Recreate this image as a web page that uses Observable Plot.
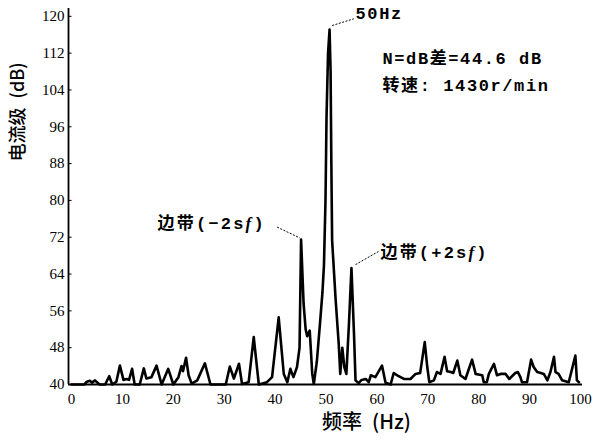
<!DOCTYPE html>
<html>
<head>
<meta charset="utf-8">
<script src="https://cdn.jsdelivr.net/npm/d3@7"></script>
<script src="https://cdn.jsdelivr.net/npm/@observablehq/plot@0.6"></script>
<style>
  html, body { margin: 0; padding: 0; background: #fff; }
  #chart svg { display: block; }
</style>
</head>
<body>
<div id="chart"></div>
<script>
// ---- data ----
const freq = [0, 1, 2.5, 3.0, 3.6, 4.0, 4.6, 5.5, 6.6, 7.4, 8.0, 8.8, 9.5, 10.2, 10.8, 11.3, 11.9, 12.4, 13.4, 14.2, 14.7, 15.7, 16.7, 17.7, 19.0, 20.0, 21.0, 21.6, 21.9, 22.5, 23.0, 23.6, 24.7, 26.2, 27.3, 30.3, 31.1, 31.9, 32.9, 33.5, 34.8, 35.8, 36.5, 36.8, 38.4, 39.4, 40.7, 41.7, 42.4, 43.0, 43.6, 44.3, 44.8, 45.1, 45.6, 46.0, 46.3, 46.8, 47.3, 47.6, 48.2, 48.8, 49.3, 49.6, 49.9, 50.1, 50.4, 50.7, 50.9, 51.05, 51.2, 51.9, 52.5, 52.8, 53.2, 53.6, 54.0, 54.5, 55.0, 55.5, 55.8, 56.4, 57.0, 57.8, 58.4, 58.8, 59.7, 61.0, 61.7, 62.7, 63.3, 64.0, 65.3, 66.6, 67.6, 68.5, 69.4, 69.9, 70.3, 71.2, 71.8, 72.5, 73.3, 73.8, 74.5, 75.0, 75.8, 76.4, 77.4, 78.7, 79.4, 80.7, 81.0, 81.6, 82.0, 83.0, 83.6, 84.3, 85.3, 86.0, 87.2, 87.7, 88.2, 88.5, 89.5, 90.3, 90.8, 91.5, 92.2, 92.8, 93.5, 94.1, 94.8, 95.1, 95.7, 96.4, 97.7, 99.0, 99.3, 99.7];
const level = [40, 40, 40, 40.6, 40.8, 40.4, 40.9, 40, 40, 41.8, 40, 40.6, 44.1, 41, 41.2, 41, 43.4, 40, 40, 43.5, 41.3, 41.6, 44.1, 40, 43.4, 40, 41.6, 44.0, 42.9, 45.8, 42, 40.2, 40.9, 44.6, 40, 40, 43.9, 41.3, 44.5, 40.1, 40.5, 50.3, 43, 40, 40.5, 41.6, 54.6, 42.3, 40.5, 43.4, 41.6, 43.8, 48, 71.5, 57.5, 52, 50.5, 51.7, 42.3, 40.1, 45, 53, 60, 66, 80, 98, 112, 117.1, 108, 88, 71.3, 58.3, 48.8, 42.3, 48, 43.8, 42.3, 53, 65.3, 51, 40.9, 40.3, 41, 41.2, 40.5, 42, 41.6, 44.1, 40.4, 40, 42.5, 42, 41.2, 41.2, 42.3, 42.5, 49.2, 43.8, 40.5, 40.9, 42.7, 42.3, 46, 42.9, 42.7, 42.5, 45.2, 42, 41.2, 45.4, 42.3, 42, 40.5, 40.5, 42.3, 44.5, 42, 42.3, 42.3, 41.2, 42.5, 42.7, 41.6, 40.5, 40.5, 45.4, 43.8, 42.7, 42.5, 42.3, 40.9, 42.7, 46, 42.7, 42.3, 40.9, 40.5, 46.3, 40.9, 40.5];

const xTicks = [0, 10, 20, 30, 40, 50, 60, 70, 80, 90, 100];
const yTicks = [40, 48, 56, 64, 72, 80, 88, 96, 104, 112, 120];

const xTitle = "频率\u2002(Hz)";
const yTitle = "电流级\u2002(dB)";

// annotation texts and their anchor points (data units)
const noteText = ["50Hz", "N=dB差=44.6 dB", "转速: 1430r/min", "边带(−2sf)", "边带(+2sf)"];
const noteX    = [55.8, 61.1, 61.1, 16.9, 60.7];
const noteY    = [120.6, 110.8, 105.0, 75.0, 68.7];

// leader lines
const leadX1 = [51.2, 40.4, 55.8];
const leadY1 = [118.0, 74.2, 66.05];
const leadX2 = [55.45, 44.84, 60.3];
const leadY2 = [119.46, 71.85, 68.9];

const spectrum = freq.map((f, i) => ({f, v: level[i]}));
const notes = noteText.map((t, i) => ({t, x: noteX[i], y: noteY[i]}));
const leaders = leadX1.map((d, i) => ({x1: d, y1: leadY1[i], x2: leadX2[i], y2: leadY2[i]}));

const cjk = "'Liberation Mono', 'Noto Sans CJK SC', monospace";

const chart = Plot.plot({
  width: 600,
  height: 441,
  marginLeft: 68,
  marginRight: 18,
  marginTop: 8,
  marginBottom: 57,
  style: {fontFamily: "'Liberation Serif', serif", fontSize: "15px", color: "black", background: "white"},
  x: {domain: [-0.6, 100.4]},
  y: {domain: [40, 121.7]},
  marks: [
    Plot.axisX({ticks: xTicks, tickSize: 0, tickPadding: 9, label: null, fontSize: 15, fontFamily: "'Liberation Serif', serif"}),
    Plot.axisY({ticks: yTicks, tickSize: 0, tickPadding: 4, label: null, fontSize: 15, fontFamily: "'Liberation Serif', serif"}),
    Plot.ruleY(yTicks.slice(1), {x1: -0.6, x2: 0.1, stroke: "black", strokeWidth: 1}),
    Plot.ruleX([-0.6], {stroke: "black", strokeWidth: 1.8}),
    Plot.ruleY([40], {stroke: "black", strokeWidth: 2}),
    Plot.line(spectrum, {x: "f", y: "v", stroke: "black", strokeWidth: 2.6}),
    Plot.link(leaders, {x1: "x1", y1: "y1", x2: "x2", y2: "y2", stroke: "black", strokeWidth: 1, strokeDasharray: "2,1.5"}),
    Plot.text(notes, {x: "x", y: "y", text: "t", textAnchor: "start", lineAnchor: "middle", fontSize: 17, fontFamily: cjk, fill: "black", fontWeight: 600}),
    Plot.text([xTitle], {frameAnchor: "bottom", dx: 41, dy: 38, lineAnchor: "middle", fontSize: 20, fontFamily: "'Noto Sans CJK SC', sans-serif", fill: "black", fontWeight: 500}),
    Plot.text([yTitle], {frameAnchor: "left", dx: -50, dy: -35, rotate: -90, lineAnchor: "middle", fontSize: 18, fontFamily: "'Noto Sans CJK SC', sans-serif", fill: "black", fontWeight: 500})
  ]
});

// letter spacing for annotations, italic f in side-band labels
d3.select(chart).selectAll("text").each(function() {
  const s = this.textContent;
  if (noteText.includes(s)) d3.select(this).attr("letter-spacing", s.includes("带") ? 2.2 : 1.6);
  if (/2sf\)$/.test(s)) {
    const sel = d3.select(this);
    sel.text(null);
    sel.append("tspan").text(s.slice(0, -2));
    sel.append("tspan").attr("font-style", "italic").attr("font-family", "'Liberation Serif', serif").text("f");
    sel.append("tspan").text(")");
  }
});

document.getElementById("chart").appendChild(chart);
</script>
</body>
</html>
